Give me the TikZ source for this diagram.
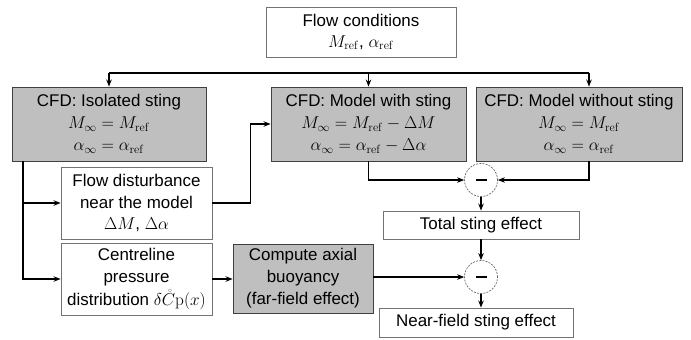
\documentclass[tikz,border=0pt]{standalone}
\usepackage[no-math]{fontspec}
\setmainfont{Liberation Sans}
\usetikzlibrary{arrows.meta}
\begin{document}
\begin{tikzpicture}[x=1bp,y=-1bp,
  every node/.style={font=\fontsize{17}{22}\selectfont, align=center, inner sep=0pt},
  graybox/.style={draw=black!75, fill=black!25, line width=0.9bp, rectangle},
  whitebox/.style={draw=black!55, fill=white, line width=0.9bp, rectangle},
  opcircle/.style={circle, draw=black!60, line width=0.7bp, dash pattern=on 2bp off 1.2bp, minimum size=33bp},
  conn/.style={draw=black, line width=1.3bp},
  arr/.style={conn, -{Stealth[length=7bp,width=5.5bp]}}
]
\useasboundingbox (0,0) rectangle (691,339);

% top: flow conditions
\node[whitebox, minimum width=190bp, minimum height=50bp] (flow) at (361,32)
  {Flow conditions\\[-1bp] $M_{\mathrm{ref}}$, $\alpha_{\mathrm{ref}}$};

% three CFD runs
\node[graybox, minimum width=194bp, minimum height=74bp] (iso) at (109,124)
  {CFD: Isolated sting\\ $M_\infty = M_{\mathrm{ref}}$\\ $\alpha_\infty = \alpha_{\mathrm{ref}}$};
\node[graybox, minimum width=195bp, minimum height=74bp] (with) at (368.5,124)
  {CFD: Model with sting\\ $M_\infty = M_{\mathrm{ref}} - \Delta M$\\ $\alpha_\infty = \alpha_{\mathrm{ref}} - \Delta\alpha$};
\node[graybox, minimum width=206bp, minimum height=74bp] (without) at (579,124)
  {CFD: Model without sting\\ $M_\infty = M_{\mathrm{ref}}$\\ $\alpha_\infty = \alpha_{\mathrm{ref}}$};

% derived quantities from the isolated sting run
\node[whitebox, minimum width=151bp, minimum height=72bp] (dist) at (136.5,203)
  {Flow disturbance\\ near the model\\ $\Delta M$, $\Delta\alpha$};
\node[whitebox, minimum width=151bp, minimum height=72bp] (cline) at (136.5,279)
  {Centreline\\ pressure\\[1bp] distribution $\delta\mathring{C}\mathrm{p}(x)$};
\node[graybox, minimum width=140bp, minimum height=69bp] (buoy) at (303,278.5)
  {Compute axial\\ buoyancy\\ (far-field effect)};

% differences and results
\node[opcircle] (sub1) at (481,180) {\rule{11bp}{1.8bp}};
\node[whitebox, minimum width=196bp, minimum height=28bp] (total) at (481,225)
  {Total sting effect};
\node[opcircle] (sub2) at (481,277) {\rule{11bp}{1.8bp}};
\node[whitebox, minimum width=194bp, minimum height=29bp] (near) at (476,322.5)
  {Near-field sting effect};

% distribution bus from the flow conditions
\coordinate (busL) at (109,73);
\coordinate (busM) at (368.5,73);
\coordinate (busR) at (589,73);
\draw[conn] (busL) -- (busR);
\draw[arr] (busL) -- (iso.north);
\draw[arr] (busM) -- (with.north);
\draw[arr] (busR) -- (busR |- without.north);

% isolated sting outputs
\coordinate (trunk) at (23,161);
\draw[arr] (trunk) |- (dist.west);
\draw[arr] (trunk) |- (cline.west);
\draw[arr] (dist.east) -- ++(38,0) |- (with.west);
\draw[arr] (cline.east) -- (cline.east -| buoy.west);

% subtraction chain
\draw[arr] (with.south) |- (sub1.west);
\draw[arr] (busR |- without.south) |- (sub1.east);
\draw[arr] (sub1.south) -- (total.north);
\draw[arr] (total.south) -- (sub2.north);
\draw[arr] (buoy.east |- sub2.west) -- (sub2.west);
\draw[arr] (sub2.south) -- (sub2.south |- near.north);
\end{tikzpicture}
\end{document}
